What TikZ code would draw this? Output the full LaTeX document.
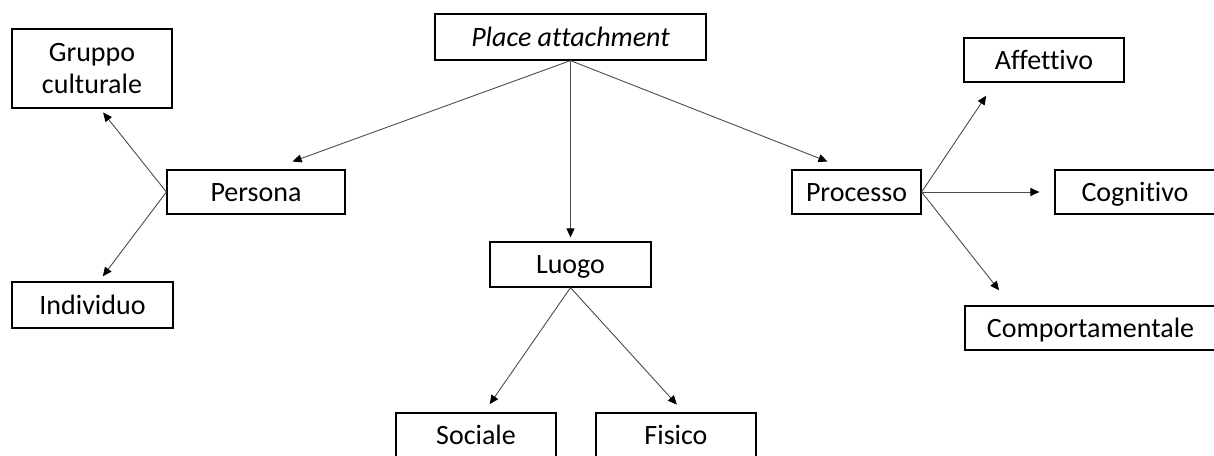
\documentclass[tikz,border=0pt]{standalone}
\usepackage{fontspec}
\setmainfont{Carlito}[Ligatures=NoCommon]
\usetikzlibrary{arrows.meta}

\begin{document}
\begin{tikzpicture}[x=0.5pt,y=-0.5pt,
        cell/.style={draw, line width=0.6pt, inner sep=0pt, align=center, font=\fontsize{14}{16}\selectfont},
        box/.style={cell, text height=9pt, text depth=0pt},
        link/.style={draw=black!70, line width=0.45pt, -{Triangle[length=4.5pt,width=4pt,color=black]}}]
            \useasboundingbox (0,0) rectangle (1214,455);
            \node[box, minimum width=135.5pt, minimum height=23pt] (pa) at (570.5,37) {\textit{Place attachment}};
            \node[cell, minimum width=80pt, minimum height=39.5pt] (gruppo) at (92,68.5) {Gruppo\\culturale};
            \node[box, minimum width=89pt, minimum height=22pt] (persona) at (256,192) {Persona};
            \node[box, minimum width=80.5pt, minimum height=23pt] (individuo) at (92.5,305) {Individuo};
            \node[box, minimum width=80.5pt, minimum height=22.5pt] (luogo) at (570.5,264.5) {Luogo};
            \node[box, minimum width=80pt, minimum height=22pt] (sociale) at (476,435) {Sociale};
            \node[box, minimum width=80pt, minimum height=22pt] (fisico) at (676,435) {Fisico};
            \node[box, minimum width=64.5pt, minimum height=22pt] (processo) at (856.5,192) {Processo};
            \node[box, minimum width=80pt, minimum height=22pt] (affettivo) at (1044,60) {Affettivo};
            \node[box, minimum width=80pt, minimum height=22pt] (cognitivo) at (1135,192) {Cognitivo};
            \node[box, minimum width=125.5pt, minimum height=22pt] (comport) at (1090.5,328) {Comportamentale};
            \draw[link, shorten >=11.5pt] (pa.south) -- ([xshift=7.5pt]persona.north);
            \draw[link, shorten >=2pt] (pa.south) -- (luogo.north);
            \draw[link, shorten >=10.8pt] (pa.south) -- ([xshift=-4.5pt]processo.north);
            \draw[link, shorten >=2.5pt] (persona.west) -- ([xshift=4pt]gruppo.south);
            \draw[link, shorten >=3.2pt] (persona.west) -- ([xshift=3.25pt]individuo.north);
            \draw[link, shorten >=5pt] (luogo.south) -- ([xshift=4pt]sociale.north);
            \draw[link, shorten >=5.3pt] (luogo.south) -- ([xshift=4pt]fisico.north);
            \draw[link, shorten >=7.9pt] (processo.east) -- ([xshift=-24.5pt]affettivo.south);
            \draw[link, shorten >=7.5pt] (processo.east) -- (cognitivo.west);
            \draw[link, shorten >=9.6pt] (processo.east) -- ([xshift=-39.75pt]comport.north);
        \end{tikzpicture}
\end{document}
